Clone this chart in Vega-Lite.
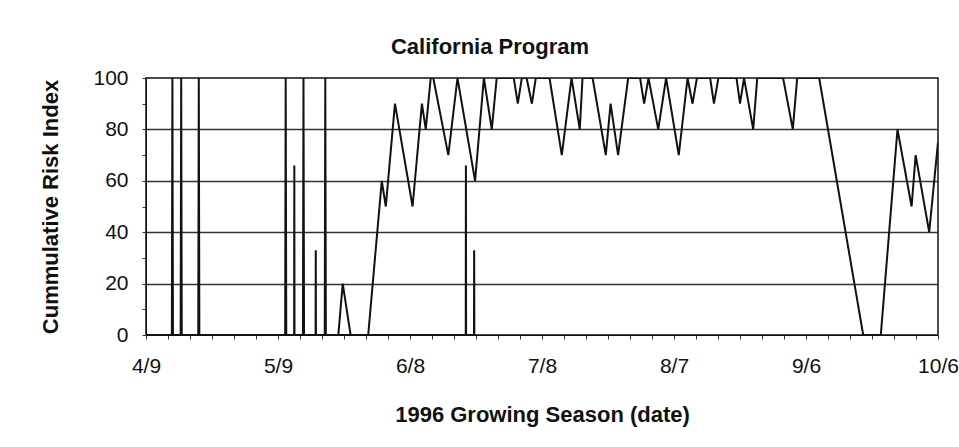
{
  "$schema": "https://vega.github.io/schema/vega-lite/v6.json",
  "width": 792,
  "height": 257,
  "autosize": "none",
  "padding": {"left": 146, "top": 78, "right": 21, "bottom": 112},
  "background": "white",
  "title": {"text": "California Program", "font": "Liberation Sans", "fontSize": 22, "fontWeight": "bold", "color": "#111", "dx": -52, "offset": 8},
  "config": {
    "view": {"stroke": "#111", "strokeWidth": 1.5},
    "axis": {"labelFont": "Liberation Sans", "titleFont": "Liberation Sans", "labelFontSize": 21, "titleFontSize": 22, "titleFontWeight": "bold", "labelColor": "#111", "titleColor": "#111", "domainColor": "#111", "tickColor": "#333"}
  },
  "data": {"values": [
    {"date": "1996-04-09T00:00:00Z", "risk": 0, "series": "main"},
    {"date": "1996-04-14T21:00:00Z", "risk": 0, "series": "main"},
    {"date": "1996-04-15T00:00:00Z", "risk": 100, "series": "main"},
    {"date": "1996-04-15T03:00:00Z", "risk": 0, "series": "main"},
    {"date": "1996-04-16T21:00:00Z", "risk": 0, "series": "main"},
    {"date": "1996-04-17T00:00:00Z", "risk": 100, "series": "main"},
    {"date": "1996-04-17T03:00:00Z", "risk": 0, "series": "main"},
    {"date": "1996-04-20T21:00:00Z", "risk": 0, "series": "main"},
    {"date": "1996-04-21T00:00:00Z", "risk": 100, "series": "main"},
    {"date": "1996-04-21T03:00:00Z", "risk": 0, "series": "main"},
    {"date": "1996-05-10T15:00:00Z", "risk": 0, "series": "main"},
    {"date": "1996-05-10T18:00:00Z", "risk": 100, "series": "main"},
    {"date": "1996-05-10T21:00:00Z", "risk": 0, "series": "main"},
    {"date": "1996-05-14T16:00:00Z", "risk": 0, "series": "main"},
    {"date": "1996-05-14T19:00:00Z", "risk": 100, "series": "main"},
    {"date": "1996-05-14T22:00:00Z", "risk": 0, "series": "main"},
    {"date": "1996-05-19T15:00:00Z", "risk": 0, "series": "main"},
    {"date": "1996-05-19T18:00:00Z", "risk": 100, "series": "main"},
    {"date": "1996-05-19T21:00:00Z", "risk": 0, "series": "main"},
    {"date": "1996-05-22T17:00:00Z", "risk": 0, "series": "main"},
    {"date": "1996-05-23T17:00:00Z", "risk": 20, "series": "main"},
    {"date": "1996-05-25T12:00:00Z", "risk": 0, "series": "main"},
    {"date": "1996-05-29T12:00:00Z", "risk": 0, "series": "main"},
    {"date": "1996-06-01T14:00:00Z", "risk": 60, "series": "main"},
    {"date": "1996-06-02T12:00:00Z", "risk": 50, "series": "main"},
    {"date": "1996-06-04T14:00:00Z", "risk": 90, "series": "main"},
    {"date": "1996-06-08T14:00:00Z", "risk": 50, "series": "main"},
    {"date": "1996-06-10T17:00:00Z", "risk": 90, "series": "main"},
    {"date": "1996-06-11T14:00:00Z", "risk": 80, "series": "main"},
    {"date": "1996-06-12T17:00:00Z", "risk": 100, "series": "main"},
    {"date": "1996-06-13T07:00:00Z", "risk": 100, "series": "main"},
    {"date": "1996-06-16T17:00:00Z", "risk": 70, "series": "main"},
    {"date": "1996-06-18T19:00:00Z", "risk": 100, "series": "main"},
    {"date": "1996-06-22T19:00:00Z", "risk": 60, "series": "main"},
    {"date": "1996-06-24T19:00:00Z", "risk": 100, "series": "main"},
    {"date": "1996-06-26T14:00:00Z", "risk": 80, "series": "main"},
    {"date": "1996-06-27T17:00:00Z", "risk": 100, "series": "main"},
    {"date": "1996-07-01T14:00:00Z", "risk": 100, "series": "main"},
    {"date": "1996-07-02T12:00:00Z", "risk": 90, "series": "main"},
    {"date": "1996-07-03T10:00:00Z", "risk": 100, "series": "main"},
    {"date": "1996-07-04T12:00:00Z", "risk": 100, "series": "main"},
    {"date": "1996-07-05T17:00:00Z", "risk": 90, "series": "main"},
    {"date": "1996-07-06T14:00:00Z", "risk": 100, "series": "main"},
    {"date": "1996-07-09T17:00:00Z", "risk": 100, "series": "main"},
    {"date": "1996-07-12T12:00:00Z", "risk": 70, "series": "main"},
    {"date": "1996-07-14T17:00:00Z", "risk": 100, "series": "main"},
    {"date": "1996-07-16T14:00:00Z", "risk": 80, "series": "main"},
    {"date": "1996-07-17T05:00:00Z", "risk": 100, "series": "main"},
    {"date": "1996-07-19T12:00:00Z", "risk": 100, "series": "main"},
    {"date": "1996-07-22T12:00:00Z", "risk": 70, "series": "main"},
    {"date": "1996-07-23T14:00:00Z", "risk": 90, "series": "main"},
    {"date": "1996-07-25T07:00:00Z", "risk": 70, "series": "main"},
    {"date": "1996-07-27T14:00:00Z", "risk": 100, "series": "main"},
    {"date": "1996-07-30T07:00:00Z", "risk": 100, "series": "main"},
    {"date": "1996-07-31T05:00:00Z", "risk": 90, "series": "main"},
    {"date": "1996-08-01T05:00:00Z", "risk": 100, "series": "main"},
    {"date": "1996-08-03T10:00:00Z", "risk": 80, "series": "main"},
    {"date": "1996-08-05T05:00:00Z", "risk": 100, "series": "main"},
    {"date": "1996-08-08T02:00:00Z", "risk": 70, "series": "main"},
    {"date": "1996-08-10T02:00:00Z", "risk": 100, "series": "main"},
    {"date": "1996-08-11T05:00:00Z", "risk": 90, "series": "main"},
    {"date": "1996-08-12T05:00:00Z", "risk": 100, "series": "main"},
    {"date": "1996-08-15T05:00:00Z", "risk": 100, "series": "main"},
    {"date": "1996-08-16T02:00:00Z", "risk": 90, "series": "main"},
    {"date": "1996-08-17T02:00:00Z", "risk": 100, "series": "main"},
    {"date": "1996-08-21T05:00:00Z", "risk": 100, "series": "main"},
    {"date": "1996-08-22T00:00:00Z", "risk": 90, "series": "main"},
    {"date": "1996-08-22T22:00:00Z", "risk": 100, "series": "main"},
    {"date": "1996-08-25T00:00:00Z", "risk": 80, "series": "main"},
    {"date": "1996-08-25T22:00:00Z", "risk": 100, "series": "main"},
    {"date": "1996-08-31T19:00:00Z", "risk": 100, "series": "main"},
    {"date": "1996-09-03T00:00:00Z", "risk": 80, "series": "main"},
    {"date": "1996-09-04T00:00:00Z", "risk": 100, "series": "main"},
    {"date": "1996-09-09T00:00:00Z", "risk": 100, "series": "main"},
    {"date": "1996-09-19T00:00:00Z", "risk": 0, "series": "main"},
    {"date": "1996-09-23T00:00:00Z", "risk": 0, "series": "main"},
    {"date": "1996-09-26T19:00:00Z", "risk": 80, "series": "main"},
    {"date": "1996-09-30T00:00:00Z", "risk": 50, "series": "main"},
    {"date": "1996-09-30T22:00:00Z", "risk": 70, "series": "main"},
    {"date": "1996-10-04T00:00:00Z", "risk": 40, "series": "main"},
    {"date": "1996-10-06T00:00:00Z", "risk": 75, "series": "main"},
    {"date": "1996-05-12T16:00:00Z", "risk": 0, "series": "second"},
    {"date": "1996-05-12T17:00:00Z", "risk": 66, "series": "second"},
    {"date": "1996-05-12T18:00:00Z", "risk": 0, "series": "second"},
    {"date": "1996-05-17T13:00:00Z", "risk": 0, "series": "second"},
    {"date": "1996-05-17T14:00:00Z", "risk": 33, "series": "second"},
    {"date": "1996-05-17T15:00:00Z", "risk": 0, "series": "second"},
    {"date": "1996-06-20T16:00:00Z", "risk": 0, "series": "second"},
    {"date": "1996-06-20T17:00:00Z", "risk": 66, "series": "second"},
    {"date": "1996-06-20T18:00:00Z", "risk": 0, "series": "second"},
    {"date": "1996-06-22T13:00:00Z", "risk": 0, "series": "second"},
    {"date": "1996-06-22T14:00:00Z", "risk": 33, "series": "second"},
    {"date": "1996-06-22T15:00:00Z", "risk": 0, "series": "second"}
  ]},
  "mark": {"type": "line", "color": "#111", "strokeWidth": 2, "clip": true},
  "encoding": {
    "x": {
      "field": "date", "type": "temporal",
      "scale": {"type": "utc", "domain": [{"year": 1996, "month": 4, "date": 9, "utc": true}, {"year": 1996, "month": 10, "date": 6, "utc": true}], "nice": false},
      "axis": {
        "title": "1996 Growing Season (date)", "titlePadding": 28,
        "values": [
          {"year": 1996, "month": 4, "date": 9, "utc": true},
          {"year": 1996, "month": 4, "date": 14, "utc": true},
          {"year": 1996, "month": 4, "date": 19, "utc": true},
          {"year": 1996, "month": 4, "date": 24, "utc": true},
          {"year": 1996, "month": 4, "date": 29, "utc": true},
          {"year": 1996, "month": 5, "date": 4, "utc": true},
          {"year": 1996, "month": 5, "date": 9, "utc": true},
          {"year": 1996, "month": 5, "date": 14, "utc": true},
          {"year": 1996, "month": 5, "date": 19, "utc": true},
          {"year": 1996, "month": 5, "date": 24, "utc": true},
          {"year": 1996, "month": 5, "date": 29, "utc": true},
          {"year": 1996, "month": 6, "date": 3, "utc": true},
          {"year": 1996, "month": 6, "date": 8, "utc": true},
          {"year": 1996, "month": 6, "date": 13, "utc": true},
          {"year": 1996, "month": 6, "date": 18, "utc": true},
          {"year": 1996, "month": 6, "date": 23, "utc": true},
          {"year": 1996, "month": 6, "date": 28, "utc": true},
          {"year": 1996, "month": 7, "date": 3, "utc": true},
          {"year": 1996, "month": 7, "date": 8, "utc": true},
          {"year": 1996, "month": 7, "date": 13, "utc": true},
          {"year": 1996, "month": 7, "date": 18, "utc": true},
          {"year": 1996, "month": 7, "date": 23, "utc": true},
          {"year": 1996, "month": 7, "date": 28, "utc": true},
          {"year": 1996, "month": 8, "date": 2, "utc": true},
          {"year": 1996, "month": 8, "date": 7, "utc": true},
          {"year": 1996, "month": 8, "date": 12, "utc": true},
          {"year": 1996, "month": 8, "date": 17, "utc": true},
          {"year": 1996, "month": 8, "date": 22, "utc": true},
          {"year": 1996, "month": 8, "date": 27, "utc": true},
          {"year": 1996, "month": 9, "date": 1, "utc": true},
          {"year": 1996, "month": 9, "date": 6, "utc": true},
          {"year": 1996, "month": 9, "date": 11, "utc": true},
          {"year": 1996, "month": 9, "date": 16, "utc": true},
          {"year": 1996, "month": 9, "date": 21, "utc": true},
          {"year": 1996, "month": 9, "date": 26, "utc": true},
          {"year": 1996, "month": 10, "date": 1, "utc": true},
          {"year": 1996, "month": 10, "date": 6, "utc": true}
        ],
        "labelExpr": "indexof(['4/9','5/9','6/8','7/8','8/7','9/6','10/6'], utcFormat(datum.value, '%-m/%-d')) >= 0 ? utcFormat(datum.value, '%-m/%-d') : ''",
        "labelOverlap": false, "labelFlush": false, "labelPadding": 16,
        "grid": false, "tickSize": 4, "tickWidth": 1
      }
    },
    "y": {
      "field": "risk", "type": "quantitative",
      "scale": {"domain": [0, 100], "nice": false},
      "axis": {
        "title": "Cummulative Risk Index", "titlePadding": 30,
        "values": [0, 10, 20, 30, 40, 50, 60, 70, 80, 90, 100],
        "labelExpr": "datum.value % 20 === 0 ? datum.label : ''",
        "labelPadding": 14,
        "grid": true, "gridColor": "#333", "gridWidth": 1.5,
        "gridOpacity": {"condition": {"test": "datum.value % 20 === 0 && datum.value > 0 && datum.value < 100", "value": 1}, "value": 0},
        "tickSize": 4, "tickWidth": 1
      }
    },
    "detail": {"field": "series", "type": "nominal"}
  }
}
